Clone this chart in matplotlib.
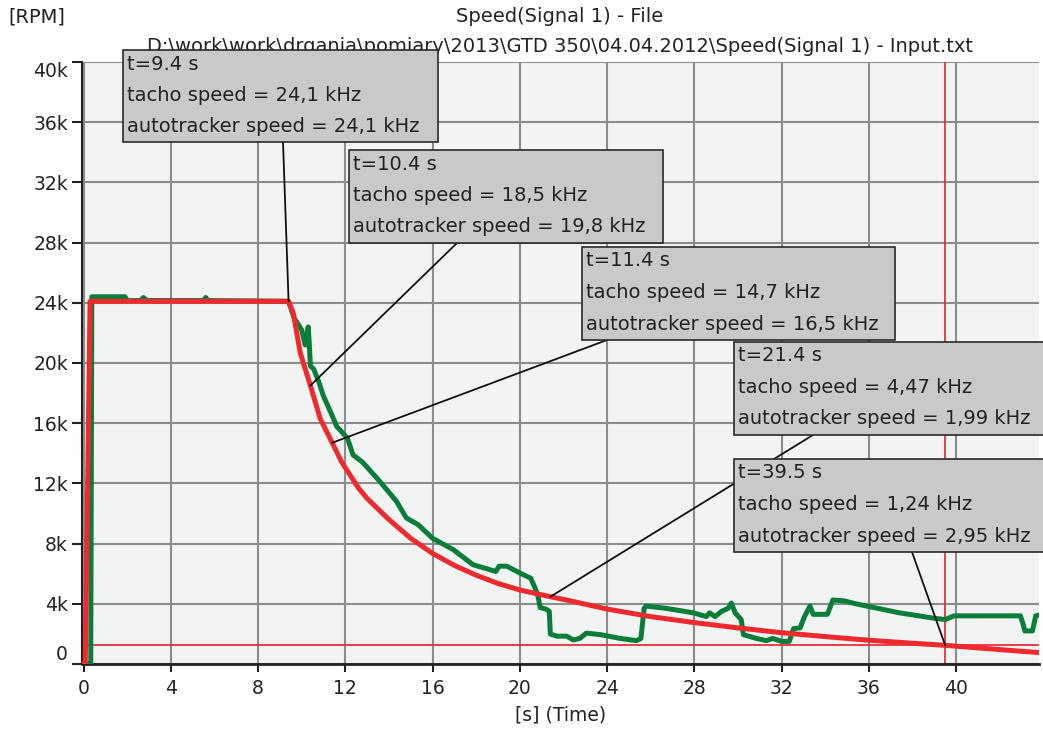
import matplotlib
matplotlib.use("Agg")
import matplotlib.pyplot as plt
from matplotlib.patches import Rectangle
from matplotlib.ticker import FixedLocator, FixedFormatter

plt.rcParams['font.family'] = ['DejaVu Sans']

# Tacho speed (red), time in s, speed in thousands of RPM
tacho_t = [0.0, 0.08, 0.3, 9.4, 9.62, 9.93, 10.4, 10.85, 11.4, 11.84, 12.6, 13.0,
           14.0, 15.0, 16.0, 17.0, 18.0, 19.0, 20.0, 21.4, 22.15, 24.0, 26.0, 28.0,
           30.0, 32.0, 34.0, 36.0, 38.0, 39.5, 41.0, 42.5, 43.8]
tacho_v = [0.0, 0.0, 24.1, 24.1, 23.3, 20.7, 18.5, 16.3, 14.7, 13.4, 11.7, 11.0,
           9.6, 8.35, 7.35, 6.55, 5.9, 5.35, 4.92, 4.47, 4.25, 3.65, 3.15, 2.75,
           2.4, 2.08, 1.82, 1.58, 1.38, 1.24, 1.07, 0.9, 0.76]

# Autotracker speed (green)
auto_t = [0.25, 0.33, 0.38, 1.9, 2.0, 2.6, 2.75, 2.9, 5.5, 5.6, 5.7, 9.4, 9.65,
          10.0, 10.16, 10.3, 10.34, 10.4, 10.55, 10.77, 11.0, 11.4, 11.6, 12.1,
          12.35, 12.8, 13.6, 14.35, 14.8, 15.35, 16.0, 16.95, 17.85, 18.9, 19.05,
          19.4, 20.0, 20.5, 20.7, 20.85, 20.93, 21.2, 21.35, 21.4, 21.7, 22.15,
          22.45, 22.75, 23.05, 23.7, 24.6, 25.35, 25.55, 25.7, 25.8, 26.7, 27.95,
          28.55, 28.7, 28.95, 29.25, 29.55, 29.7, 29.87, 30.15, 30.25, 30.85,
          31.3, 31.6, 32.0, 32.35, 32.55, 32.85, 33.05, 33.3, 33.45, 34.1, 34.35,
          34.85, 35.4, 35.9, 37.4, 38.95, 39.5, 39.9, 41.0, 42.0, 42.95, 43.08,
          43.15, 43.5, 43.65, 43.8]
auto_v = [0.0, 0.0, 24.4, 24.4, 24.15, 24.15, 24.35, 24.15, 24.15, 24.35, 24.15,
          24.1, 23.0, 22.2, 21.2, 22.4, 21.5, 19.8, 19.6, 18.8, 17.8, 16.5, 15.8,
          15.0, 13.9, 13.4, 12.1, 10.8, 9.7, 9.25, 8.35, 7.6, 6.6, 6.15, 6.5,
          6.5, 6.05, 5.7, 5.05, 4.4, 3.75, 3.65, 3.5, 1.99, 1.85, 1.85, 1.6,
          1.7, 2.05, 1.95, 1.7, 1.55, 1.7, 3.7, 3.85, 3.7, 3.4, 3.15, 3.4, 3.15,
          3.5, 3.7, 4.05, 3.4, 2.95, 1.95, 1.7, 1.55, 1.7, 1.5, 1.5, 2.35, 2.4,
          3.15, 3.85, 3.3, 3.3, 4.25, 4.2, 4.0, 3.85, 3.4, 3.05, 2.95, 3.2, 3.2,
          3.2, 3.2, 2.6, 2.2, 2.2, 3.2, 3.25]

# Cursor readouts
ann_t = [9.4, 10.4, 11.4, 21.4, 39.5]
ann_tacho = [24.1, 18.5, 14.7, 4.47, 1.24]
ann_auto = [24.1, 19.8, 16.5, 1.99, 2.95]

x_ticks = [0, 4, 8, 12, 16, 20, 24, 28, 32, 36, 40]
y_ticks = [0, 4, 8, 12, 16, 20, 24, 28, 32, 36, 40]
y_tick_labels = ['0', '4k', '8k', '12k', '16k', '20k', '24k', '28k', '32k', '36k', '40k']

title_1 = 'Speed(Signal 1) - File'
title_2 = 'D:\\work\\work\\drgania\\pomiary\\2013\\GTD 350\\04.04.2012\\Speed(Signal 1) - Input.txt'

W, H = 1043, 729
fig = plt.figure(figsize=(W / 100, H / 100), dpi=100)
fig.patch.set_facecolor('white')


def fx(x):
    return x / W


def fy(y):
    return 1 - y / H


ax = fig.add_axes([fx(82), fy(664), fx(1039) - fx(82), fy(62) - fy(664)])
ax.set_facecolor('#f2f4f4')

red = '#ee2a2e'
green = '#0b7d3a'

ax.plot(auto_t, [v * 1000 for v in auto_v], color=green, lw=3.6, zorder=3,
        solid_joinstyle='round')
ax.plot(tacho_t, [v * 1000 for v in tacho_v], color=red, lw=3.6, zorder=4,
        solid_joinstyle='round')

# Cursor lines
ax.axvline(ann_t[-1], color='#e8202a', lw=1.2, zorder=2.5)
ax.axhline(ann_tacho[-1] * 1000, color='#e8202a', lw=1.2, zorder=2.5)

ax.set_xlim(-0.07, 43.8)
ax.set_ylim(0, 40000)
ax.xaxis.set_major_locator(FixedLocator(x_ticks))
ax.yaxis.set_major_locator(FixedLocator([v * 1000 for v in y_ticks]))
ax.yaxis.set_major_formatter(FixedFormatter(y_tick_labels))
ax.grid(True, color='#8c8c8c', lw=1.5, zorder=1)
ax.set_axisbelow(True)

for s in ['top', 'right']:
    ax.spines[s].set_visible(False)
ax.spines['left'].set_linewidth(1.5)
ax.spines['bottom'].set_linewidth(2.0)
ax.spines['left'].set_color('#222222')
ax.spines['bottom'].set_color('#222222')

ax.tick_params(axis='x', direction='out', length=6, width=1.5, pad=5,
               labelsize=13.5, colors='#222222')
ax.tick_params(axis='y', direction='out', length=7, width=1.5, pad=3,
               labelsize=13.5, colors='#222222')
ylabels = ax.get_yticklabels()
ylabels[0].set_verticalalignment('bottom')
ylabels[-1].set_verticalalignment('top')

ax.set_xlabel('[s] (Time)', fontsize=13.5, labelpad=5, color='#222222')

# Header texts
ax.text(fx(8), fy(17), '[RPM]', transform=fig.transFigure, fontsize=14,
        ha='left', va='center', color='#222222', clip_on=False)
ax.text(fx(560), fy(17), title_1, transform=fig.transFigure, fontsize=14,
        ha='center', va='center', color='#222222', clip_on=False, zorder=1)
ax.text(fx(560), fy(46), title_2, transform=fig.transFigure, fontsize=14,
        ha='center', va='center', color='#222222', clip_on=False, zorder=1)

# Readout boxes: (left, top, right, bottom) in pixels, leader start on box edge
boxes = [(123, 50, 438, 142), (349, 150, 663, 243), (582, 247, 895, 340),
         (734, 342, 1060, 435), (734, 459, 1060, 552)]
leader_start = [(283, 142), (457, 243), (607, 340), (813, 435), (912, 552)]


def fmt(v):
    return ('%.3g' % v).replace('.', ',')


for i, (t, tv, av) in enumerate(zip(ann_t, ann_tacho, ann_auto)):
    l, tp, r, b = boxes[i]
    sx, sy = leader_start[i]
    ax.annotate('', xy=(t, tv * 1000), xycoords='data',
                xytext=(fx(sx), fy(sy)), textcoords='figure fraction',
                arrowprops=dict(arrowstyle='-', color='#111111', lw=1.3,
                                shrinkA=0, shrinkB=0),
                zorder=6, annotation_clip=False)
    ax.add_patch(Rectangle((fx(l), fy(b)), fx(r) - fx(l), fy(tp) - fy(b),
                           transform=fig.transFigure, facecolor='#c8c9cb',
                           edgecolor='#2a2a2a', lw=1.2, clip_on=False,
                           zorder=10 + i))
    lines = ['t=%s s' % t, 'tacho speed = %s kHz' % fmt(tv),
             'autotracker speed = %s kHz' % fmt(av)]
    for j, txt in enumerate(lines):
        ax.text(fx(l + 4), fy(tp + 14 + 31.5 * j), txt, transform=fig.transFigure,
                fontsize=14, ha='left', va='center', color='#222222',
                clip_on=False, zorder=10.5 + i)

fig.savefig('out.png', dpi=100, facecolor='white')
